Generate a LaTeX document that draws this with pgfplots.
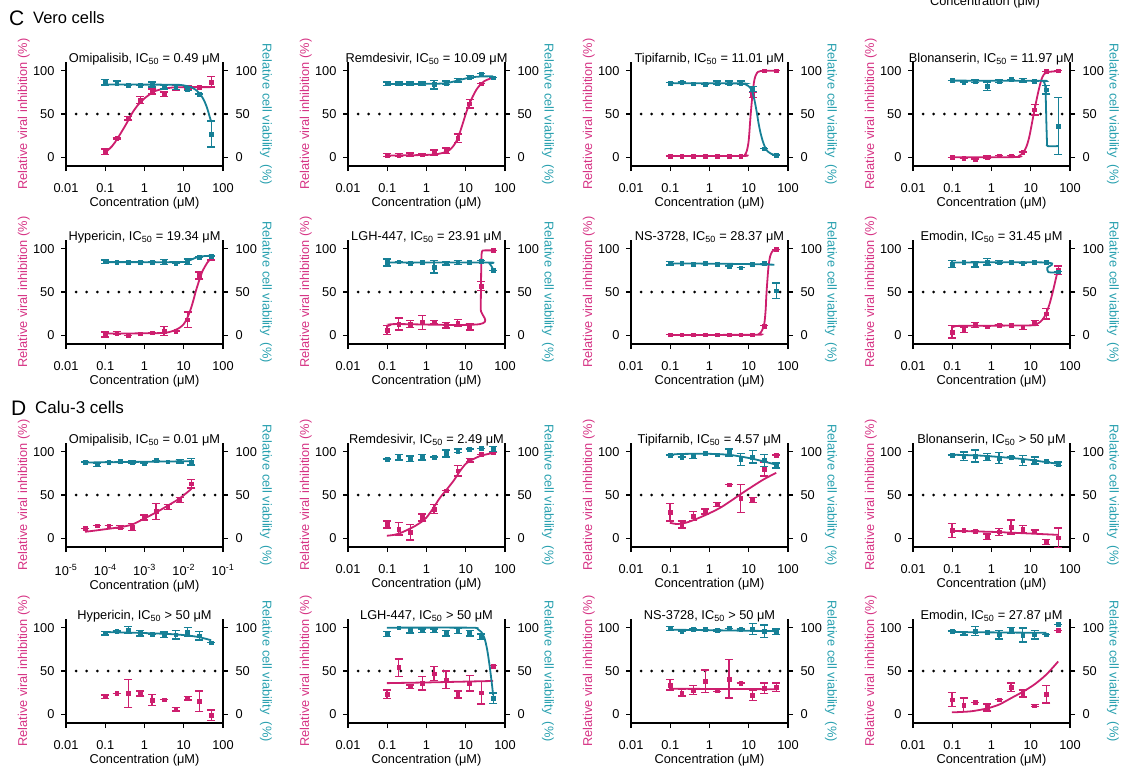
\documentclass[border=0pt]{standalone}
\usepackage{fontspec}
\setmainfont{Liberation Sans}
\usepackage{pgfplots}
\pgfplotsset{compat=1.18}

\definecolor{mag}{RGB}{205,30,110}
\definecolor{tea}{RGB}{22,128,150}
\definecolor{maglab}{RGB}{214,51,132}
\definecolor{tealab}{RGB}{40,160,175}
\newcommand\fs{\fontsize{12.8}{15}\selectfont}

% #1 x, #2 y, #3 title, #4 magenta points, #5 magenta curve (addplot or empty),
% #6 teal points, #7 teal curve (addplot or empty), #8 x domain (1 = standard, 2 = omipalisib), #9 dotted line coords
\newcommand\panel[9]{%
 \ifnum#8=2 \def\cxmin{1e-5}\def\cxmax{0.1}\else\def\cxmin{0.01}\def\cxmax{100}\fi
 \ifnum#8=1
 \begin{axis}[scale only axis, width=157pt, height=104pt, anchor=south west, at={(#1pt,#2pt)},
    xmode=log, xmin=0.01, xmax=100, ymin=-10, ymax=110,
    xtick={0.01,0.1,1,10,100}, xticklabels={0.01,0.1,1,10,100},
    ytick={0,50,100}, yticklabels={0,50,100}, xminorticks=false, yminorticks=false,
    clip=false, tick align=outside, major tick length=5pt,
    every tick/.style={black, line width=1.3pt},
    axis line style={black, line width=1.5pt},
    tick label style={font=\fs, black}, label style={font=\fs},
    xticklabel style={yshift=-9pt}, yticklabel style={xshift=-3pt},
    axis x line*=bottom, axis y line*=left,
    xlabel={Concentration (μM)}, xlabel style={yshift=2pt},
    ylabel={Relative viral inhibition (\%)},
    ylabel style={color=maglab, at={(rel axis cs:-0.268,0.5)}, anchor=center},
    title={#3}, title style={font=\fs, at={(0.5,1)}, anchor=base, yshift=-6pt}]
 \else
 \begin{axis}[scale only axis, width=157pt, height=104pt, anchor=south west, at={(#1pt,#2pt)},
    xmode=log, xmin=1e-5, xmax=0.1, ymin=-10, ymax=110,
    xtick={1e-5,1e-4,1e-3,1e-2,1e-1},
    xticklabels={10\textsuperscript{-5},10\textsuperscript{-4},10\textsuperscript{-3},10\textsuperscript{-2},10\textsuperscript{-1}},
    ytick={0,50,100}, yticklabels={0,50,100}, xminorticks=false, yminorticks=false,
    clip=false, tick align=outside, major tick length=5pt,
    every tick/.style={black, line width=1.3pt},
    axis line style={black, line width=1.5pt},
    tick label style={font=\fs, black}, label style={font=\fs},
    xticklabel style={yshift=-9pt}, yticklabel style={xshift=-3pt},
    axis x line*=bottom, axis y line*=left,
    xlabel={Concentration (μM)}, xlabel style={yshift=2pt},
    ylabel={Relative viral inhibition (\%)},
    ylabel style={color=maglab, at={(rel axis cs:-0.268,0.5)}, anchor=center},
    title={#3}, title style={font=\fs, at={(0.5,1)}, anchor=base, yshift=-6pt}]
 \fi
   \addplot[black, line width=3pt, line cap=round, dash pattern=on 0pt off 10.7pt] coordinates {#9};
   \addplot[color=mag, only marks, mark=square*, mark size=1.9pt,
      error bars/.cd, y dir=both, y explicit,
      error bar style={line width=1.3pt},
      error mark options={rotate=90, mark size=4pt, line width=1.3pt}] coordinates {#4};
   #5
 \end{axis}
 \begin{axis}[scale only axis, width=157pt, height=104pt, anchor=south west, at={(#1pt,#2pt)},
    xmode=log, xmin=\cxmin, xmax=\cxmax, ymin=-10, ymax=110,
    ytick={0,50,100}, yticklabels={0,50,100}, xminorticks=false, yminorticks=false,
    clip=false, tick align=outside, major tick length=5pt,
    every tick/.style={black, line width=1.3pt},
    axis line style={black, line width=1.5pt},
    tick label style={font=\fs, black}, label style={font=\fs},
    yticklabel style={xshift=4pt},
    axis x line=none, axis y line*=right,
    ylabel={Relative cell viability\ \ (\%)},
    ylabel style={color=tealab, rotate=180, at={(rel axis cs:1.274,0.5)}, anchor=center}]
   \addplot[color=tea, only marks, mark=square*, mark size=1.9pt,
      error bars/.cd, y dir=both, y explicit,
      error bar style={line width=1.3pt},
      error mark options={rotate=90, mark size=4pt, line width=1.3pt}] coordinates {#6};
   #7
 \end{axis}}

\tikzset{cmag/.style={color=mag, line width=1.8pt, smooth}, ctea/.style={color=tea, line width=1.8pt, smooth}}

\begin{document}
\begin{tikzpicture}
\useasboundingbox (0pt,0pt) rectangle (1125pt,-766pt);

\node[anchor=base west, font=\fontsize{21}{24}\selectfont, inner sep=0] at (9pt,-25pt) {C};
\node[anchor=base west, font=\fontsize{16.5}{19}\selectfont, inner sep=0] at (33pt,-23pt) {Vero cells};
\node[anchor=base west, font=\fontsize{21}{24}\selectfont, inner sep=0] at (11pt,-415pt) {D};
\node[anchor=base west, font=\fontsize{17}{19}\selectfont, inner sep=0] at (35pt,-413pt) {Calu-3 cells};
\node[anchor=base, font=\fs, inner sep=0] at (985pt,-5pt) {Concentration (μM)};

% ---------------- Row 1 (Vero) ----------------
\panel{66}{-166}{Omipalisib, IC\textsubscript{50} = 0.49 μM}
{(0.098,6.6) +- (0,3) (0.195,22) +- (0,1) (0.39,45) +- (0,2) (0.78,66) +- (0,4) (1.56,76) +- (0,3) (3.125,73) +- (0,2.5) (6.25,80) +- (0,3) (12.5,81) +- (0,2) (25,81) +- (0,0) (50,87) +- (0,6)}
{\addplot[cmag] coordinates {(0.098,5) (0.15,13) (0.2,21) (0.3,34) (0.4,44) (0.5,52) (0.7,61) (1,68) (1.5,74) (2,77) (3,79) (5,80.5) (10,81) (50,81)};}
{(0.098,86.5) +- (0,3) (0.195,86) +- (0,2) (0.39,83) +- (0,0) (0.78,83) +- (0,0) (1.56,84) +- (0,3) (3.125,81) +- (0,2) (6.25,81) +- (0,3) (12.5,79) +- (0,2) (25,73) +- (0,0) (50,27) +- (0,15)}
{\addplot[ctea] coordinates {(0.098,84) (5,83.8) (10,83) (15,81) (20,78) (25,74) (30,69) (35,63) (40,56) (45,48) (50,41)};}
{1}{(0.018,50) (70,50)}

\panel{348}{-166}{Remdesivir, IC\textsubscript{50} = 10.09 μM}
{(0.098,2.7) +- (0,2) (0.195,2.7) +- (0,2) (0.39,3) +- (0,2) (0.78,3) +- (0,1) (1.56,5.4) +- (0,3) (3.125,7.7) +- (0,3) (6.25,22) +- (0,5) (12.5,62) +- (0,5) (25,85) +- (0,0) (50,92) +- (0,0)}
{\addplot[cmag] coordinates {(0.098,2) (1,2.8) (2,4) (3,6) (4,9) (5,14) (6,20) (7,28) (8,36) (10,50) (12,60) (15,70) (20,80) (30,88) (50,92)};}
{(0.098,85) +- (0,2) (0.195,85) +- (0,2) (0.39,85) +- (0,2) (0.78,85) +- (0,2) (1.56,84) +- (0,5) (3.125,86) +- (0,2) (6.25,89) +- (0,2) (12.5,92.6) +- (0,2) (25,96.5) +- (0,0) (50,92) +- (0,0)}
{\addplot[ctea] coordinates {(0.098,84.5) (2,85) (4,86.5) (6,88.5) (10,91) (15,92.5) (25,93.3) (50,93.5)};}
{1}{(0.018,50) (70,50)}

\panel{631}{-166}{Tipifarnib, IC\textsubscript{50} = 11.01 μM}
{(0.098,1.5) +- (0,0) (0.195,1.5) +- (0,0) (0.39,1.5) +- (0,0) (0.78,1.5) +- (0,0) (1.56,1.5) +- (0,0) (3.125,1.5) +- (0,0) (6.25,1.5) +- (0,0) (12.5,72) +- (0,3) (25,100) +- (0,0) (50,100) +- (0,0)}
{\addplot[cmag] coordinates {(0.098,1.5) (7,1.6) (8,3) (9,8) (10,20) (11,45) (12,65) (13,80) (14,90) (16,97) (20,99.5) (50,100)};}
{(0.098,86) +- (0,0) (0.195,87) +- (0,0) (0.39,85) +- (0,0) (0.78,84) +- (0,0) (1.56,86) +- (0,2) (3.125,86) +- (0,2) (6.25,86) +- (0,2) (12.5,79) +- (0,3) (25,10) +- (0,0) (50,2.7) +- (0,0)}
{\addplot[ctea] coordinates {(0.098,85.5) (6,85.3) (8,84.5) (10,82) (12,77) (14,66) (16,52) (18,38) (20,28) (23,18) (27,10) (32,6) (40,3.5) (50,2.5)};}
{1}{(0.018,50) (70,50)}

\panel{913}{-166}{Blonanserin, IC\textsubscript{50} = 11.97 μM}
{(0.098,0) +- (0,0) (0.195,-1) +- (0,0) (0.39,-2) +- (0,0) (0.78,0) +- (0,1.5) (1.56,2) +- (0,0) (3.125,2) +- (0,0) (6.25,6) +- (0,0) (12.5,55) +- (0,6) (25,99) +- (0,0) (50,100) +- (0,0)}
{\addplot[cmag] coordinates {(0.098,0) (4,0.3) (5,1.5) (6,4) (7,8) (8,14) (9,22) (10,32) (11,42) (12,51) (14,66) (16,78) (18,87) (20,93) (25,98) (50,99.5)};}
{(0.098,89) +- (0,0) (0.195,87) +- (0,0) (0.39,88) +- (0,2) (0.78,82) +- (0,5) (1.56,88) +- (0,2) (3.125,90) +- (0,0) (6.25,89) +- (0,2) (12.5,88) +- (0,0) (25,78) +- (0,5) (50,36) +- (0,33)}
{\addplot[ctea] coordinates {(0.098,88.5) (18,88.3) (21,87.5) (23,84) (24,72) (25,40) (26,17) (27,13) (50,13)};}
{1}{(0.018,50) (70,50)}

% ---------------- Row 2 (Vero) ----------------
\panel{66}{-344}{Hypericin, IC\textsubscript{50} = 19.34 μM}
{(0.098,1) +- (0,3) (0.195,2.7) +- (0,2) (0.39,0) +- (0,0) (0.78,2) +- (0,0) (1.56,3) +- (0,0) (3.125,5) +- (0,5) (6.25,5) +- (0,0) (12.5,18) +- (0,9) (25,69) +- (0,4) (50,89) +- (0,2)}
{\addplot[cmag] coordinates {(0.098,2) (2,2.5) (4,3.5) (6,6) (8,9) (10,13) (12,19) (15,30) (18,42) (20,50) (25,64) (30,74) (40,84) (50,89)};}
{(0.098,85) +- (0,2) (0.195,84.7) +- (0,0) (0.39,84.7) +- (0,0) (0.78,84.7) +- (0,0) (1.56,84.7) +- (0,0) (3.125,84.7) +- (0,3) (6.25,83.6) +- (0,0) (12.5,85) +- (0,3) (25,90.5) +- (0,0) (50,91.6) +- (0,0)}
{\addplot[ctea] coordinates {(0.098,84.5) (8,84.5) (12,85.5) (15,87) (20,89.5) (25,90.8) (35,91.5) (50,91.8)};}
{1}{(0.018,50) (70,50)}

\panel{348}{-344}{LGH-447, IC\textsubscript{50} = 23.91 μM}
{(0.098,6) +- (0,5) (0.195,13) +- (0,7) (0.39,13) +- (0,4) (0.78,15) +- (0,8) (1.56,15) +- (0,2) (3.125,11.5) +- (0,3) (6.25,14) +- (0,4) (12.5,10) +- (0,4) (25,57) +- (0,5) (50,98) +- (0,0)}
{\addplot[cmag] coordinates {(0.098,10) (0.12,12) (0.18,13) (23,13) (24,30) (24.5,60) (25,88) (26,97) (30,98) (50,98)};}
{(0.098,84) +- (0,4) (0.195,85) +- (0,0) (0.39,83) +- (0,0) (0.78,84) +- (0,0) (1.56,79) +- (0,7) (3.125,83) +- (0,2) (6.25,84) +- (0,2) (12.5,84) +- (0,0) (25,86) +- (0,0) (50,75) +- (0,0)}
{\addplot[ctea] coordinates {(0.098,84) (35,84) (40,83) (45,80) (50,76)};}
{1}{(0.018,50) (70,50)}

\panel{631}{-344}{NS-3728, IC\textsubscript{50} = 28.37 μM}
{(0.098,0.8) +- (0,0) (0.195,0.8) +- (0,0) (0.39,0.8) +- (0,0) (0.78,0.8) +- (0,0) (1.56,0.8) +- (0,0) (3.125,0.8) +- (0,0) (6.25,0.8) +- (0,0) (12.5,0.8) +- (0,0) (25,11) +- (0,0) (50,99) +- (0,0)}
{\addplot[cmag] coordinates {(0.098,0.5) (15,0.6) (18,1.5) (20,3) (22,6) (25,14) (27,30) (28,45) (30,65) (32,80) (35,91) (40,97) (50,99.5)};}
{(0.098,83) +- (0,2) (0.195,83) +- (0,0) (0.39,82.5) +- (0,0) (0.78,83) +- (0,0) (1.56,82.5) +- (0,0) (3.125,80) +- (0,0) (6.25,78) +- (0,0) (12.5,82) +- (0,0) (25,83) +- (0,0) (50,51.5) +- (0,9)}
{\addplot[ctea] coordinates {(0.098,83) (1,82.7) (10,82.2) (45,81.5)};}
{1}{(0.018,50) (70,50)}

\panel{913}{-344}{Emodin, IC\textsubscript{50} = 31.45 μM}
{(0.098,4) +- (0,7) (0.195,6.5) +- (0,3) (0.39,12) +- (0,3) (0.78,10) +- (0,0) (1.56,12) +- (0,0) (3.125,11.5) +- (0,0) (6.25,9) +- (0,2) (12.5,14) +- (0,3) (25,25) +- (0,6) (50,75) +- (0,5)}
{\addplot[cmag] coordinates {(0.098,9) (0.12,10.5) (0.2,11) (10,11.5) (14,13) (18,16) (22,21) (26,28) (30,36) (35,47) (40,58) (45,68) (50,76)};}
{(0.098,82) +- (0,4) (0.195,84) +- (0,0) (0.39,82) +- (0,3) (0.78,85) +- (0,4) (1.56,84.7) +- (0,2) (3.125,84) +- (0,0) (6.25,83) +- (0,0) (12.5,84) +- (0,0) (25,84) +- (0,0) (50,73.5) +- (0,0)}
{\addplot[ctea] coordinates {(0.098,84) (25,84) (26.5,78) (28,73) (50,72.5)};}
{1}{(0.018,50) (70,50)}

% ---------------- Row 3 (Calu-3) ----------------
\panel{66}{-547}{Omipalisib, IC\textsubscript{50} = 0.01 μM}
{(3.05e-5,11.5) +- (0,0) (6.1e-5,14.5) +- (0,0) (1.22e-4,14.5) +- (0,0) (2.44e-4,13) +- (0,2) (4.88e-4,13) +- (0,4) (9.77e-4,24) +- (0,3) (1.95e-3,31) +- (0,9) (3.9e-3,36) +- (0,3) (7.8e-3,44) +- (0,3) (1.56e-2,63) +- (0,5)}
{\addplot[cmag] coordinates {(3.05e-5,7.5) (1e-4,10.5) (2.44e-4,13) (4.88e-4,16) (1e-3,23) (2e-3,30) (4e-3,38) (7.8e-3,46) (1.56e-2,57)};}
{(3.05e-5,88) +- (0,0) (6.1e-5,85) +- (0,2) (1.22e-4,88) +- (0,0) (2.44e-4,89) +- (0,0) (4.88e-4,88) +- (0,2) (9.77e-4,87) +- (0,0) (1.95e-3,90) +- (0,0) (3.9e-3,88.5) +- (0,0) (7.8e-3,89) +- (0,2) (1.56e-2,88.5) +- (0,4)}
{\addplot[ctea] coordinates {(3.05e-5,87.5) (1.56e-2,89)};}
{2}{(1.8e-5,50) (0.07,50)}

\panel{348}{-547}{Remdesivir, IC\textsubscript{50} = 2.49 μM}
{(0.098,16) +- (0,4) (0.195,11) +- (0,7) (0.39,7) +- (0,9) (0.78,24) +- (0,4) (1.56,34) +- (0,5) (3.125,55) +- (0,0) (6.25,78) +- (0,6) (12.5,90) +- (0,2) (25,97) +- (0,0) (50,99) +- (0,0)}
{\addplot[cmag] coordinates {(0.098,3) (0.15,4) (0.2,5.5) (0.3,9) (0.5,14) (0.8,20) (1,24) (1.5,35) (2,44) (2.5,50) (3.1,55) (5,67) (7,77) (10,86) (15,91) (25,95.5) (50,98.5)};}
{(0.098,91.6) +- (0,0) (0.195,93.5) +- (0,3) (0.39,92) +- (0,3) (0.78,93.5) +- (0,3) (1.56,94) +- (0,0) (3.125,98) +- (0,4) (6.25,101) +- (0,2) (12.5,103) +- (0,0) (25,103.8) +- (0,0) (50,103) +- (0,3)}
{}
{1}{(0.018,50) (70,50)}

\panel{631}{-547}{Tipifarnib, IC\textsubscript{50} = 4.57 μM}
{(0.098,30) +- (0,10) (0.195,16) +- (0,4) (0.39,25.6) +- (0,5) (0.78,31) +- (0,3) (1.56,39) +- (0,2) (3.125,62) +- (0,0) (6.25,46) +- (0,16) (12.5,44) +- (0,3) (25,80) +- (0,8) (50,96) +- (0,0)}
{\addplot[cmag] coordinates {(0.098,18) (0.15,16.5) (0.25,18) (0.5,23) (1,29) (2,36) (4,45) (6.25,51) (12.5,60) (25,68.5) (50,75.6)};}
{(0.098,96) +- (0,0) (0.195,94) +- (0,0) (0.39,95) +- (0,3) (0.78,98) +- (0,0) (1.56,96.5) +- (0,0) (3.125,99) +- (0,4) (6.25,91) +- (0,7) (12.5,94) +- (0,7) (25,90) +- (0,7) (50,84) +- (0,3)}
{\addplot[ctea] coordinates {(0.098,95.5) (0.13,97) (0.3,97.5) (1,97.5) (3,96.5) (6,94.5) (12,92) (25,88.5) (50,85)};}
{1}{(0.018,50) (70,50)}

\panel{913}{-547}{Blonanserin, IC\textsubscript{50} > 50 μM}
{(0.098,9) +- (0,8) (0.195,9) +- (0,0) (0.39,8.4) +- (0,0) (0.78,2) +- (0,3) (1.56,7.6) +- (0,4) (3.125,13) +- (0,8) (6.25,10.7) +- (0,4) (12.5,7.6) +- (0,2) (25,-4) +- (0,3) (50,0.8) +- (0,11)}
{\addplot[cmag] coordinates {(0.098,8.5) (1,7.5) (10,5.5) (50,4)};}
{(0.098,96) +- (0,0) (0.195,94.7) +- (0,5) (0.39,95) +- (0,7) (0.78,94) +- (0,4) (1.56,92.7) +- (0,6) (3.125,94) +- (0,0) (6.25,89.7) +- (0,6) (12.5,89.7) +- (0,4) (25,89) +- (0,0) (50,86) +- (0,2)}
{\addplot[ctea] coordinates {(0.098,96.5) (0.5,95.5) (2,93.5) (8,91) (20,88.5) (50,86)};}
{1}{(0.018,50) (70,50)}

% ---------------- Row 4 (Calu-3) ----------------
\panel{66}{-723}{Hypericin, IC\textsubscript{50} > 50 μM}
{(0.098,20.4) +- (0,2) (0.195,24) +- (0,0) (0.39,24) +- (0,16) (0.78,24) +- (0,3) (1.56,16.5) +- (0,6) (3.125,17) +- (0,0) (6.25,6) +- (0,2) (12.5,18.5) +- (0,2) (25,15) +- (0,12) (50,-1) +- (0,6)}
{}
{(0.098,93.5) +- (0,2) (0.195,96) +- (0,0) (0.39,97) +- (0,4) (0.78,93.5) +- (0,3) (1.56,92.7) +- (0,0) (3.125,92) +- (0,3) (6.25,92) +- (0,5) (12.5,95) +- (0,5) (25,90.8) +- (0,5) (50,82.7) +- (0,0)}
{\addplot[ctea] coordinates {(0.098,95) (1,93.8) (5,92.5) (12.5,91) (25,89) (50,85.5)};}
{1}{(0.018,50) (70,50)}

\panel{348}{-723}{LGH-447, IC\textsubscript{50} > 50 μM}
{(0.098,23) +- (0,5) (0.195,54) +- (0,10) (0.39,32) +- (0,2) (0.78,36) +- (0,8) (1.56,47) +- (0,8) (3.125,40) +- (0,10) (6.25,23) +- (0,4) (12.5,36) +- (0,9) (25,25) +- (0,13) (50,56) +- (0,0)}
{\addplot[cmag] coordinates {(0.098,36) (1,36.8) (10,37.8) (50,38.5)};}
{(0.098,92.7) +- (0,3) (0.195,100) +- (0,0) (0.39,97) +- (0,3) (0.78,96.5) +- (0,2) (1.56,96.5) +- (0,2) (3.125,93.5) +- (0,3) (6.25,96) +- (0,3) (12.5,93.5) +- (0,3) (25,89.6) +- (0,3) (50,18.5) +- (0,6)}
{\addplot[ctea] coordinates {(0.098,100) (12.5,100) (20,98.5) (25,95) (30,88) (35,75) (40,58) (45,40) (50,22)};}
{1}{(0.018,50) (70,50)}

\panel{631}{-723}{NS-3728, IC\textsubscript{50} > 50 μM}
{(0.098,34) +- (0,6) (0.195,25) +- (0,4) (0.39,28) +- (0,5) (0.78,38) +- (0,13) (1.56,28) +- (0,2) (3.125,41) +- (0,22) (6.25,36) +- (0,0) (12.5,22) +- (0,6) (25,30) +- (0,6) (50,31) +- (0,5)}
{\addplot[cmag] coordinates {(0.098,29.5) (50,29)};}
{(0.098,99) +- (0,2) (0.195,96) +- (0,0) (0.39,98.5) +- (0,0) (0.78,98) +- (0,0) (1.56,97) +- (0,1) (3.125,99) +- (0,0) (6.25,98.5) +- (0,0) (12.5,98.5) +- (0,6) (25,96) +- (0,7) (50,95.4) +- (0,3)}
{\addplot[ctea] coordinates {(0.098,97.7) (50,96)};}
{1}{(0.018,50) (70,50)}

\panel{913}{-723}{Emodin, IC\textsubscript{50} = 27.87 μM}
{(0.098,17) +- (0,8) (0.195,11) +- (0,8) (0.39,14) +- (0,0) (0.78,8) +- (0,4) (1.56,17) +- (0,0) (3.125,31) +- (0,5) (6.25,24) +- (0,4) (12.5,10) +- (0,1) (25,23) +- (0,10) (50,97) +- (0,0)}
{\addplot[cmag] coordinates {(0.098,2.3) (0.3,3.5) (0.8,7) (1.6,11.5) (3.1,18.5) (6.25,26) (12.5,34.6) (25,46) (50,61)};}
{(0.098,96) +- (0,0) (0.195,93.5) +- (0,2) (0.39,96) +- (0,5) (0.78,94.6) +- (0,0) (1.56,92) +- (0,5) (3.125,97) +- (0,3) (6.25,91.5) +- (0,8) (12.5,92) +- (0,5) (25,92) +- (0,0) (50,104) +- (0,0)}
{\addplot[ctea] coordinates {(0.098,95) (25,94)};}
{1}{(0.018,50) (70,50)}

\end{tikzpicture}
\end{document}
